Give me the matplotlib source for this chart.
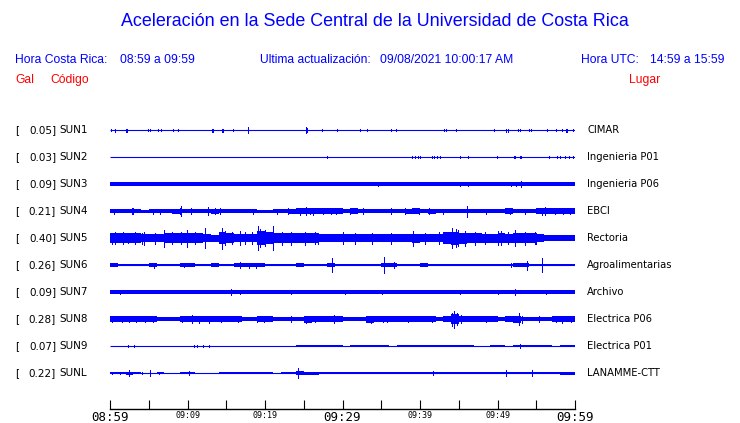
import numpy as np
import matplotlib.pyplot as plt
from matplotlib.transforms import blended_transform_factory

BLUE = '#0000ff'
RED = '#ff0000'

stations = ['SUN1', 'SUN2', 'SUN3', 'SUN4', 'SUN5', 'SUN6', 'SUN7', 'SUN8', 'SUN9', 'SUNL']
peak_gal = [0.05, 0.03, 0.09, 0.21, 0.40, 0.26, 0.09, 0.28, 0.07, 0.22]
places = ['CIMAR', 'Ingenieria P01', 'Ingenieria P06', 'EBCI', 'Rectoria',
          'Agroalimentarias', 'Archivo', 'Electrica P06', 'Electrica P01', 'LANAMME-CTT']

tick_minutes = [0, 5, 10, 15, 20, 25, 30, 35, 40, 45, 50, 55, 60]
tick_labels = ['08:59', '', '09:09', '', '09:19', '', '09:29', '', '09:39', '', '09:49', '', '09:59']
big_labels = ['08:59', '09:29', '09:59']

# envelope half-heights of each trace, bins spread over the hour
env_sun1 = None
env_sun2 = None
env_sun3 = [1.9, 1.8, 1.9, 1.8, 1.9, 1.9, 1.9, 1.9, 1.9, 1.9, 2.0, 1.9]
env_sun4 = [2.0, 2.0, 2.3, 1.8, 1.5, 1.9, 2.0, 2.1, 2.5, 2.3, 2.1, 2.1, 2.3, 2.5, 1.9,
            1.9, 2.0, 2.1, 1.6, 1.5, 1.5, 2.0, 2.1, 2.5, 2.9, 3.4, 2.8, 2.9, 2.7, 2.9,
            2.3, 2.7, 2.3, 2.2, 2.2, 2.4, 2.3, 2.4, 2.5, 2.7, 2.4, 2.5, 2.1, 2.1, 2.2,
            2.3, 2.1, 2.1, 2.0, 2.1, 2.1, 3.0, 2.1, 2.1, 2.1, 2.7, 3.4, 2.9, 2.8, 2.6]
env_sun5 = [5.0, 5.0, 4.8, 5.0, 4.2, 4.0, 4.3, 4.6, 4.6, 4.8, 4.8, 5.0, 3.8, 3.5, 6.0,
            4.6, 4.2, 4.2, 4.2, 7.0, 6.0, 5.0, 4.6, 5.0, 4.8, 5.0, 4.8, 4.0, 3.8, 3.8,
            3.8, 4.0, 3.8, 3.8, 4.0, 3.8, 4.0, 3.8, 4.0, 4.5, 4.0, 4.0, 4.2, 6.0, 6.5,
            5.5, 5.0, 4.8, 4.5, 4.5, 5.0, 4.5, 5.3, 4.6, 4.6, 4.2, 3.2, 3.2, 3.2, 3.2]
env_sun6 = [1.6, 0.8, 0.7, 1.4, 1.4, 1.6, 1.4, 1.3, 1.4, 1.7, 1.6, 1.4, 1.4, 1.6, 1.4,
            1.4, 1.6, 1.9, 1.8, 1.9, 0.7, 1.2, 1.2, 1.4, 1.6, 1.4, 1.4, 1.4, 1.6, 1.4,
            1.4, 0.8, 0.7, 0.7, 0.7, 2.4, 1.8, 1.2, 0.7, 1.4, 1.6, 1.4, 1.4, 1.4, 1.4,
            1.2, 1.4, 1.4, 1.4, 1.4, 1.4, 1.4, 1.6, 1.8, 1.4, 1.4, 1.4, 1.4, 1.4, 1.4]
env_sun7 = [1.6, 1.8, 1.8, 1.9, 1.8, 1.8, 1.8, 1.8, 1.8, 1.8, 1.9, 1.8]
env_sun8 = [2.6, 2.6, 3.0, 3.0, 3.0, 3.0, 2.3, 1.8, 2.0, 3.4, 3.2, 3.0, 3.4, 2.8, 2.6,
            2.8, 2.8, 2.3, 2.1, 3.2, 2.8, 2.3, 2.0, 2.3, 2.3, 3.5, 3.0, 3.0, 3.2, 3.2,
            2.3, 2.3, 2.1, 3.5, 3.0, 3.2, 2.8, 2.8, 2.6, 2.8, 2.6, 2.8, 2.3, 3.0, 5.0,
            3.2, 2.6, 2.6, 2.8, 2.6, 2.3, 2.6, 3.5, 2.3, 2.3, 2.3, 2.3, 3.0, 3.2, 3.2]
env_sun9 = [0.0, 0.0, 0.0, 0.0, 0.0, 0.0, 0.0, 0.0, 0.0, 0.0, 0.0, 0.0, 0.0, 0.0, 0.0,
            0.0, 0.0, 0.0, 0.0, 0.0, 0.0, 0.0, 0.0, 0.0, 1.0, 1.0, 1.1, 1.0, 0.8, 0.6,
            0.3, 1.1, 1.0, 0.8, 1.1, 1.1, 0.3, 1.1, 1.2, 1.2, 1.2, 1.2, 1.2, 1.2, 1.2,
            1.2, 1.0, 0.0, 0.0, 0.8, 0.6, 0.0, 1.0, 1.1, 0.6, 1.0, 1.0, 0.3, 1.1, 1.1]
env_sunl = [0.6, 0.7, 1.5, 1.0, 0.3, 0.3, 0.9, 0.3, 0.5, 1.1, 1.2, 0.5, 0.2, 0.2, 0.6,
            1.2, 1.0, 0.6, 0.9, 0.9, 0.7, 0.3, 1.0, 1.2, 1.7, 1.5, 1.5, 1.4, 0.7, 1.0,
            0.6, 1.0, 1.2, 1.3, 1.3, 1.3, 1.3, 1.3, 1.4, 1.4, 1.4, 1.4, 1.4, 1.4, 1.4,
            1.4, 1.2, 0.7, 1.0, 1.1, 0.8, 1.1, 1.2, 0.7, 1.0, 1.4, 1.4, 1.4, 1.5, 1.5]

# isolated peaks: (minute after 08:59, half-height)
spikes_sun1 = [(0.1, 1.3), (0.6, 1.5), (0.7, 1.5), (2.1, 1.5), (2.2, 1.5), (4.9, 1.3), (5.2, 1.3),
               (6.2, 1.3), (6.6, 1.0), (8.1, 1.3), (8.8, 1.0), (13.1, 1.5), (13.3, 1.5),
               (14.4, 1.5), (14.6, 1.5), (15.9, 1.0), (17.8, 2.7), (25.3, 2.7), (25.4, 1.8),
               (27.4, 1.3), (29.3, 1.0), (32.3, 1.3), (33.2, 1.0), (36.2, 1.3), (36.9, 1.3),
               (43.1, 1.3), (43.4, 1.0), (44.7, 1.3), (49.6, 1.3), (51.1, 1.5), (51.3, 1.5),
               (52.7, 1.3), (52.9, 1.3), (54.1, 1.3), (54.3, 1.0), (56.4, 1.0), (57.6, 1.3),
               (58.3, 1.3), (58.8, 1.5), (59.0, 1.5), (59.7, 1.3)]
spikes_sun2 = [(28.0, 1.0), (39.0, 1.3), (39.4, 1.0), (39.8, 1.3), (40.0, 1.3), (41.6, 1.3),
               (41.8, 1.3), (42.2, 1.0), (42.6, 1.0), (45.2, 1.3), (46.2, 1.0), (49.9, 1.0),
               (52.1, 1.3), (52.3, 1.3), (52.9, 1.3), (53.0, 1.3), (56.6, 1.0), (57.7, 1.3),
               (58.0, 1.3), (58.7, 1.3), (59.2, 1.3), (59.8, 1.3)]
spikes_sun3 = [(34.6, 2.3), (45.2, 2.0), (46.2, 2.0), (51.8, 2.0), (52.4, 2.2), (53.0, 3.0)]
spikes_sun4 = [(0.5, 2.5), (2.9, 3.3), (3.0, 2.8), (5.5, 2.5), (6.5, 2.5), (9.0, 3.0), (9.2, 4.7),
               (10.5, 2.7), (12.6, 3.7), (13.2, 2.4), (13.6, 3.0), (14.2, 2.7), (18.4, 2.5),
               (21.5, 2.5), (23.0, 3.0), (24.5, 3.5), (25.3, 4.0), (25.8, 3.3), (26.2, 3.5),
               (27.5, 3.0), (28.5, 3.3), (29.1, 3.3), (31.0, 3.0), (32.6, 3.0), (36.3, 2.7),
               (38.1, 2.7), (39.9, 3.0), (41.2, 2.7), (43.0, 2.5), (46.1, 5.5), (48.5, 2.5),
               (51.6, 3.3), (53.6, 2.5), (55.8, 3.5), (56.1, 4.0), (57.4, 3.0), (58.5, 3.0),
               (59.4, 2.7)]
spikes_sun5 = [(0.2, 5.5), (0.6, 6.0), (1.7, 5.8), (2.3, 5.0), (3.2, 6.0), (4.1, 5.5), (4.4, 6.5),
               (5.8, 5.5), (7.0, 8.5), (8.0, 6.2), (9.2, 6.2), (9.9, 8.5), (11.0, 6.0),
               (12.3, 9.8), (14.5, 10.5), (14.8, 7.0), (15.7, 6.0), (16.8, 7.0), (17.4, 6.0),
               (18.3, 6.0), (19.1, 11.8), (19.4, 9.0), (20.0, 8.0), (21.0, 12.0), (22.2, 6.5),
               (23.4, 6.5), (25.2, 6.5), (26.5, 6.0), (26.9, 5.5), (30.0, 6.0), (31.6, 5.5),
               (33.8, 5.5), (36.3, 5.5), (39.1, 7.5), (40.6, 5.5), (42.4, 6.0), (44.1, 10.0),
               (44.6, 9.0), (44.9, 8.0), (45.8, 7.5), (47.1, 6.5), (48.4, 6.0), (50.1, 7.0),
               (50.4, 7.0), (51.4, 6.0), (52.3, 8.0), (53.6, 6.5), (54.8, 6.0), (55.0, 5.5)]
spikes_sun6 = [(5.7, 2.5), (9.5, 2.0), (16.8, 3.3), (17.9, 2.5), (18.9, 2.5), (28.6, 6.7),
               (35.3, 8.0), (36.6, 3.0), (51.7, 2.0), (53.8, 4.5), (55.8, 7.0)]
spikes_sun7 = [(1.3, 2.0), (15.6, 3.0), (16.8, 2.0), (23.4, 2.0), (30.3, 2.0), (35.1, 2.3),
               (45.1, 2.0), (50.1, 1.8), (52.3, 3.0), (56.3, 1.8)]
spikes_sun8 = [(0.3, 3.0), (1.5, 2.7), (2.5, 3.2), (3.3, 3.0), (4.5, 3.2), (5.5, 3.0), (9.3, 3.3),
               (10.6, 4.0), (11.5, 3.5), (12.8, 3.5), (14.3, 3.0), (16.5, 3.0), (19.0, 3.3),
               (19.9, 2.7), (23.4, 2.7), (25.3, 3.5), (26.5, 3.2), (28.9, 3.7), (33.7, 3.5),
               (35.2, 3.3), (35.8, 3.2), (38.5, 2.7), (41.5, 3.0), (44.1, 6.5), (44.4, 8.5),
               (44.8, 6.0), (45.3, 4.0), (48.5, 3.0), (52.8, 6.0), (53.2, 3.5), (55.4, 2.7),
               (57.5, 3.0), (58.3, 3.5), (59.5, 3.2)]
spikes_sun9 = [(2.3, 1.3), (3.1, 1.0), (10.9, 1.3), (11.2, 1.0), (12.0, 1.0), (12.8, 1.0),
               (52.9, 2.0)]
spikes_sunl = [(0.2, 1.0), (1.3, 1.0), (2.5, 3.0), (4.1, 1.0), (5.2, 2.7), (6.3, 1.0),
               (10.2, 2.0), (24.3, 5.0), (41.7, 2.0), (51.1, 2.7), (54.4, 3.0)]

envelopes = [env_sun1, env_sun2, env_sun3, env_sun4, env_sun5,
             env_sun6, env_sun7, env_sun8, env_sun9, env_sunl]
spikes = [spikes_sun1, spikes_sun2, spikes_sun3, spikes_sun4, spikes_sun5,
          spikes_sun6, spikes_sun7, spikes_sun8, spikes_sun9, spikes_sunl]


def main():
    W, H = 740, 423
    step = 27.0  # pixels between traces
    fig = plt.figure(figsize=(W / 100, H / 100), dpi=100)
    fig.patch.set_facecolor('white')

    top_px, axis_px, first_px = 115, 408.5, 130
    ax = fig.add_axes([110 / W, 1 - axis_px / H, 465 / W, (axis_px - top_px) / H])
    last = len(stations) - 1
    ax.set_ylim(last + (axis_px - first_px - last * step) / step, -(first_px - top_px) / step)
    ax.set_xlim(0, 60)

    for i, (env, spk) in enumerate(zip(envelopes, spikes)):
        ax.hlines(i, 0, 60, color=BLUE, lw=0.8)
        if env is not None:
            e = np.array(env) / step
            edges = np.linspace(0, 60, len(env) + 1)
            ee = np.append(e, e[-1])
            ax.fill_between(edges, i - ee, i + ee, step='post', color=BLUE, lw=0,
                            antialiased=False)
        if spk:
            t = [s[0] for s in spk]
            a = np.array([s[1] for s in spk]) / step
            ax.vlines(t, i - a, i + a, color=BLUE, lw=0.72, antialiased=False)

    for s in ['left', 'top', 'right']:
        ax.spines[s].set_visible(False)
    ax.spines['bottom'].set_linewidth(1.0)
    ax.set_yticks([])
    ax.set_xticks(tick_minutes)
    ax.set_xticklabels(tick_labels, family='DejaVu Sans Mono')
    ax.tick_params(axis='x', direction='in', length=6.5, width=0.8, pad=2)
    for lab in ax.get_xticklabels():
        lab.set_fontsize(9 if lab.get_text() in big_labels else 6)

    # station labels on both sides
    tr = blended_transform_factory(fig.transFigure, ax.transData)
    for i, (st, g, pl) in enumerate(zip(stations, peak_gal, places)):
        ax.text(15 / W, i, '[', transform=tr, ha='left', va='center', fontsize=7.5)
        ax.text(56 / W, i, '{:.2f}]'.format(g), transform=tr, ha='right', va='center', fontsize=7.5)
        ax.text(59 / W, i, st, transform=tr, ha='left', va='center', fontsize=7.5)
        ax.text(587 / W, i, pl, transform=tr, ha='left', va='center', fontsize=7.2)

    hf = 'Liberation Sans'
    fs = 8.7
    fig.text(375 / W, 1 - 22 / H, 'Aceleración en la Sede Central de la Universidad de Costa Rica',
             ha='center', va='center', fontsize=12.9, color=BLUE, family=hf)
    fig.text(15 / W, 1 - 60 / H, 'Hora Costa Rica:', ha='left', va='center', fontsize=fs, color=BLUE, family=hf)
    fig.text(120 / W, 1 - 60 / H, '08:59 a 09:59', ha='left', va='center', fontsize=fs, color=BLUE, family=hf)
    fig.text(260 / W, 1 - 60 / H, 'Ultima actualización:', ha='left', va='center', fontsize=fs, color=BLUE, family=hf)
    fig.text(380 / W, 1 - 60 / H, '09/08/2021 10:00:17 AM', ha='left', va='center', fontsize=fs, color=BLUE, family=hf)
    fig.text(581 / W, 1 - 60 / H, 'Hora UTC:', ha='left', va='center', fontsize=fs, color=BLUE, family=hf)
    fig.text(725 / W, 1 - 60 / H, '14:59 a 15:59', ha='right', va='center', fontsize=fs, color=BLUE, family=hf)
    fig.text(15 / W, 1 - 80 / H, 'Gal', ha='left', va='center', fontsize=fs, color=RED, family=hf)
    fig.text(50 / W, 1 - 80 / H, 'Código', ha='left', va='center', fontsize=fs, color=RED, family=hf)
    fig.text(629 / W, 1 - 80 / H, 'Lugar', ha='left', va='center', fontsize=fs, color=RED, family=hf)

    fig.savefig('out.png', dpi=100, facecolor='white')


if __name__ == '__main__':
    main()
